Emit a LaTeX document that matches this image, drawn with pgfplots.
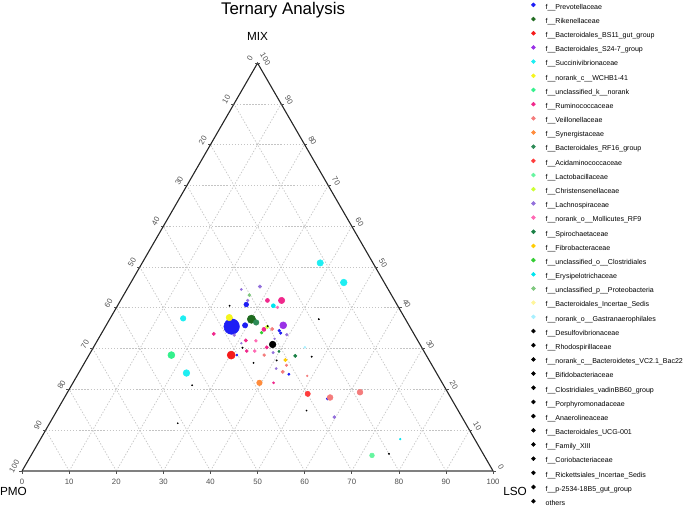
\documentclass[border=0pt]{standalone}
\usepackage{pgfplots}
\pgfplotsset{compat=1.18}
\usepackage{fontspec}
\setmainfont{Liberation Sans}
\definecolor{cPrev}{HTML}{1E1EF5}
\definecolor{cRik}{HTML}{1F6B1F}
\definecolor{cBS}{HTML}{F51A1A}
\definecolor{cS24}{HTML}{9A32E6}
\definecolor{cSuc}{HTML}{1EEEF2}
\definecolor{cWCH}{HTML}{F5F51E}
\definecolor{cUnk}{HTML}{33F08C}
\definecolor{cRum}{HTML}{F0288C}
\definecolor{cVei}{HTML}{F47C7C}
\definecolor{cSyn}{HTML}{FF8C3C}
\definecolor{cRF}{HTML}{2E8B57}
\definecolor{cAci}{HTML}{FF3C3C}
\definecolor{cLac}{HTML}{66F5A0}
\definecolor{cChr}{HTML}{CCFF33}
\definecolor{cLch}{HTML}{9370DB}
\definecolor{cMol}{HTML}{FF69B4}
\definecolor{cSpi}{HTML}{1A8045}
\definecolor{cFib}{HTML}{FFCC00}
\definecolor{cClo}{HTML}{33CC33}
\definecolor{cEry}{HTML}{00E5EE}
\definecolor{cPro}{HTML}{80C880}
\definecolor{cBIS}{HTML}{FFF59A}
\definecolor{cGas}{HTML}{A8F0FF}
\definecolor{cBlk}{HTML}{000000}
\definecolor{gridc}{HTML}{C4C4C4}
\definecolor{tickc}{HTML}{505050}
\pgfplotsset{
  fam/.style={only marks, mark=*, forget plot, scatter,
    scatter/use mapped color={draw=#1, fill=#1},
    visualization depends on={\thisrow{s}\as\perpointms},
    scatter/@pre marker code/.append style={/tikz/mark size=\perpointms}},
  /pgfplots/table/tern/.style={x expr=\thisrow{L}+0.5*\thisrow{M}, y expr=0.8660254*\thisrow{M}},
}
\newcommand{\tl}{\fontsize{5.6}{6}\selectfont}
\begin{document}
\begin{tikzpicture}
\begin{axis}[
  scale only axis, width=6.85in, height=5.11in,
  xmin=-4.671, xmax=140.764, ymin=-8.493, ymax=100,
  hide axis, clip=false,
  legend image code/.code={\fill[#1] (0pt,1.6pt) circle (1.4pt);},
  legend style={at={(axis cs:108.11,100)}, anchor=north west, draw=none, fill=none,
     inner sep=0pt, outer sep=0pt, row sep=0pt,
     font=\fontsize{5.1}{6}\selectfont,
     nodes={inner sep=0pt, text height=6.64pt, text depth=3.61pt},
     /tikz/every odd column/.append style={column sep=7.2pt}},
  legend cell align=left,
]
\path (rel axis cs:0,0) rectangle (rel axis cs:1,1);
% grid
\pgfplotsinvokeforeach{10,20,...,90}{
  \draw[gridc, line width=0.5pt, dash pattern=on 1pt off 1.2pt]
    (axis cs:{#1/2},{0.8660254*#1}) -- (axis cs:{100-#1/2},{0.8660254*#1});
  \draw[gridc, line width=0.5pt, dash pattern=on 1pt off 1.2pt]
    (axis cs:#1,0) -- (axis cs:{50+#1/2},{0.8660254*(100-#1)});
  \draw[gridc, line width=0.5pt, dash pattern=on 1pt off 1.2pt]
    (axis cs:{100-#1},0) -- (axis cs:{(100-#1)/2},{0.8660254*(100-#1)});
}
% edges
\draw[black!50, line width=1.1pt] (axis cs:0,0) -- (axis cs:100,0);
\draw[black!85, line width=0.8pt] (axis cs:0,0) -- (axis cs:50,86.60254) -- (axis cs:100,0);
% ticks and labels
\pgfplotsinvokeforeach{0,10,...,100}{
  \draw[tickc, line width=0.5pt] (axis cs:#1,0) -- ++(0pt,-2pt);
  \node[font=\tl, text=tickc, inner sep=0pt, yshift=-7.9pt] at (axis cs:#1,0) {#1};
  \draw[tickc, line width=0.5pt] (axis cs:{(100-#1)/2},{0.8660254*(100-#1)}) -- ++(-2pt,0pt);
  \node[font=\tl, text=tickc, inner sep=0pt, xshift=-5.6pt, yshift=3.3pt, rotate=60] at (axis cs:{(100-#1)/2},{0.8660254*(100-#1)}) {#1};
  \draw[tickc, line width=0.5pt] (axis cs:{100-#1/2},{0.8660254*#1}) -- ++(2pt,0pt);
  \node[font=\tl, text=tickc, inner sep=0pt, xshift=5.7pt, yshift=3.0pt, rotate=-60] at (axis cs:{100-#1/2},{0.8660254*#1}) {#1};
}
% titles
\node[anchor=base, inner sep=0pt, font=\fontsize{12.2}{14}\selectfont] at (axis cs:55.41,96.82) {Ternary Analysis};
\node[anchor=base, inner sep=0pt, font=\fontsize{8.5}{10}\selectfont] at (axis cs:50.0,91.36) {MIX};
\node[anchor=base, inner sep=0pt, font=\fontsize{8.5}{10}\selectfont] at (axis cs:-1.85,-5.31) {PMO};
\node[anchor=base, inner sep=0pt, font=\fontsize{8.5}{10}\selectfont] at (axis cs:104.67,-5.31) {LSO};

% data: L = LSO %, M = MIX %, s = mark radius (pt)
\addplot[fam=cPrev] table[tern] {
L M s
26.8 35.4 5.6
29.5 35.7 1.9
27.2 40.8 1.7
37.4 34.4 0.95
38.0 33.8 0.95
31.4 28.4 0.72
44.8 23.7 0.86
56.0 17.7 0.9
};
\addplot[fam=cRik] table[tern] {
L M s
30.1 37.2 3.0
};
\addplot[fam=cBS] table[tern] {
L M s
30.2 28.4 2.9
};
\addplot[fam=cS24] table[tern] {
L M s
37.6 35.7 2.5
};
\addplot[fam=cSuc] table[tern] {
L M s
15.5 37.4 2.0
22.9 24.0 2.4
37.8 51.0 2.3
45.2 46.2 2.4
};
\addplot[fam=cWCH] table[tern] {
L M s
25.2 37.6 2.3
};
\addplot[fam=cUnk] table[tern] {
L M s
17.5 28.4 2.5
};
\addplot[fam=cRum] table[tern] {
L M s
34.2 41.8 2.3
31.2 41.8 1.45
34.0 34.7 1.45
31.5 32.0 1.2
23.9 33.6 1.2
36.8 30.3 1.2
33.0 29.4 1.1
42.6 21.6 0.75
};
\addplot[fam=cVei] table[tern] {
L M s
56.4 18.0 2.1
62.1 19.3 2.1
43.2 24.3 1.2
43.2 25.9 0.9
37.2 28.4 1.0
35.7 34.8 1.2
48.9 23.3 0.6
};
\addplot[fam=cSyn] table[tern] {
L M s
39.6 21.6 2.0
};
\addplot[fam=cRF] table[tern] {
L M s
31.5 36.4 2.0
};
\addplot[fam=cAci] table[tern] {
L M s
51.2 18.9 1.9
};
\addplot[fam=cLac] table[tern] {
L M s
72.4 3.8 1.7
};
\addplot[fam=cChr] table[tern] {
L M s
34.4 35.3 1.3
};
\addplot[fam=cLch] table[tern] {
L M s
27.9 45.2 1.2
24.3 44.5 0.75
27.0 41.8 0.95
28.4 33.3 0.95
39.5 33.4 0.95
30.9 31.3 0.6
37.4 32.4 0.6
38.8 29.0 0.86
41.4 25.1 0.75
59.7 13.2 1.1
};
\addplot[fam=cMol] table[tern] {
L M s
33.7 31.9 1.0
34.7 29.4 1.1
34.2 40.1 1.0
};
\addplot[fam=cSpi] table[tern] {
L M s
43.9 28.2 1.2
39.9 29.3 0.8
};
\addplot[fam=cFib] table[tern] {
L M s
42.3 27.2 1.2
};
\addplot[fam=cClo] table[tern] {
L M s
33.9 33.9 1.0
};
\addplot[fam=cEry] table[tern] {
L M s
33.1 40.5 1.45
76.4 7.8 0.6
};
\addplot[fam=cPro] table[tern] {
L M s
26.7 43.1 1.1
};
\addplot[fam=cGas] table[tern] {
L M s
44.9 30.3 0.75
};
\addplot[fam=cBlk] table[tern] {
L M s
37.7 31.0 2.4
23.8 40.5 0.45
44.4 37.2 0.45
31.7 30.2 0.45
35.9 26.5 0.45
40.5 27.1 0.45
47.5 28.0 0.45
25.6 21.0 0.4
53.0 14.8 0.4
27.2 11.7 0.4
75.8 4.2 0.45
34.4 35.5 0.45
};

% legend
\addlegendimage{cPrev}\addlegendentry{f\_\_Prevotellaceae}
\addlegendimage{cRik}\addlegendentry{f\_\_Rikenellaceae}
\addlegendimage{cBS}\addlegendentry{f\_\_Bacteroidales\_BS11\_gut\_group}
\addlegendimage{cS24}\addlegendentry{f\_\_Bacteroidales\_S24-7\_group}
\addlegendimage{cSuc}\addlegendentry{f\_\_Succinivibrionaceae}
\addlegendimage{cWCH}\addlegendentry{f\_\_norank\_c\_\_WCHB1-41}
\addlegendimage{cUnk}\addlegendentry{f\_\_unclassified\_k\_\_norank}
\addlegendimage{cRum}\addlegendentry{f\_\_Ruminococcaceae}
\addlegendimage{cVei}\addlegendentry{f\_\_Veillonellaceae}
\addlegendimage{cSyn}\addlegendentry{f\_\_Synergistaceae}
\addlegendimage{cRF}\addlegendentry{f\_\_Bacteroidales\_RF16\_group}
\addlegendimage{cAci}\addlegendentry{f\_\_Acidaminococcaceae}
\addlegendimage{cLac}\addlegendentry{f\_\_Lactobacillaceae}
\addlegendimage{cChr}\addlegendentry{f\_\_Christensenellaceae}
\addlegendimage{cLch}\addlegendentry{f\_\_Lachnospiraceae}
\addlegendimage{cMol}\addlegendentry{f\_\_norank\_o\_\_Mollicutes\_RF9}
\addlegendimage{cSpi}\addlegendentry{f\_\_Spirochaetaceae}
\addlegendimage{cFib}\addlegendentry{f\_\_Fibrobacteraceae}
\addlegendimage{cClo}\addlegendentry{f\_\_unclassified\_o\_\_Clostridiales}
\addlegendimage{cEry}\addlegendentry{f\_\_Erysipelotrichaceae}
\addlegendimage{cPro}\addlegendentry{f\_\_unclassified\_p\_\_Proteobacteria}
\addlegendimage{cBIS}\addlegendentry{f\_\_Bacteroidales\_Incertae\_Sedis}
\addlegendimage{cGas}\addlegendentry{f\_\_norank\_o\_\_Gastranaerophilales}
\addlegendimage{cBlk}\addlegendentry{f\_\_Desulfovibrionaceae}
\addlegendimage{cBlk}\addlegendentry{f\_\_Rhodospirillaceae}
\addlegendimage{cBlk}\addlegendentry{f\_\_norank\_c\_\_Bacteroidetes\_VC2.1\_Bac22}
\addlegendimage{cBlk}\addlegendentry{f\_\_Bifidobacteriaceae}
\addlegendimage{cBlk}\addlegendentry{f\_\_Clostridiales\_vadinBB60\_group}
\addlegendimage{cBlk}\addlegendentry{f\_\_Porphyromonadaceae}
\addlegendimage{cBlk}\addlegendentry{f\_\_Anaerolineaceae}
\addlegendimage{cBlk}\addlegendentry{f\_\_Bacteroidales\_UCG-001}
\addlegendimage{cBlk}\addlegendentry{f\_\_Family\_XIII}
\addlegendimage{cBlk}\addlegendentry{f\_\_Coriobacteriaceae}
\addlegendimage{cBlk}\addlegendentry{f\_\_Rickettsiales\_Incertae\_Sedis}
\addlegendimage{cBlk}\addlegendentry{f\_\_p-2534-18B5\_gut\_group}
\addlegendimage{cBlk}\addlegendentry{others}
\end{axis}
\end{tikzpicture}
\end{document}
